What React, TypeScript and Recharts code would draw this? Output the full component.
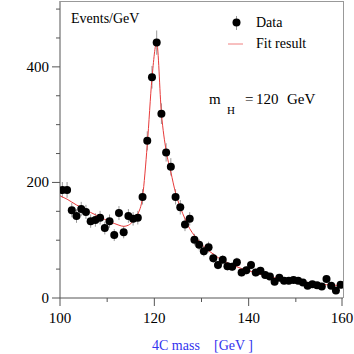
import React from "react";
import { ComposedChart, ErrorBar, Line, Scatter, XAxis, YAxis } from "recharts";

// 1 GeV bins, 100-160
const massBins = [
  100.5, 101.5, 102.5, 103.5, 104.5, 105.5, 106.5, 107.5, 108.5, 109.5,
  110.5, 111.5, 112.5, 113.5, 114.5, 115.5, 116.5, 117.5, 118.5, 119.5,
  120.5, 121.5, 122.5, 123.5, 124.5, 125.5, 126.5, 127.5, 128.5, 129.5,
  130.5, 131.5, 132.5, 133.5, 134.5, 135.5, 136.5, 137.5, 138.5, 139.5,
  140.5, 141.5, 142.5, 143.5, 144.5, 145.5, 146.5, 147.5, 148.5, 149.5,
  150.5, 151.5, 152.5, 153.5, 154.5, 155.5, 156.5, 157.5, 158.5, 159.5,
];

const events = [
  187, 187, 152, 142, 154, 149, 133, 135, 139, 121,
  133, 109, 147, 114, 142, 137, 139, 175, 272, 382,
  442, 319, 252, 227, 175, 157, 127, 137, 101, 92,
  81, 88, 69, 57, 66, 55, 54, 62, 44, 48,
  57, 44, 47, 40, 37, 28, 35, 30, 30, 31,
  30, 27, 21, 24, 22, 20, 33, 21, 13, 23,
];

const fitMass = [
  100, 100.5, 101.5, 102.5, 103.5, 104.5, 105.5, 106.5, 107.5, 108.5, 109.5,
  110.5, 111.5, 112.5, 113.5, 114.5, 115.5, 116.5, 117.5, 118.5, 119.5,
  120.5, 121.5, 122.5, 123.5, 124.5, 125.5, 126.5, 127.5, 128.5, 129.5,
  130.5, 131.5, 132.5, 133.5, 134.5, 135.5, 136.5, 137.5, 138.5, 139.5,
  140.5, 141.5, 142.5, 143.5, 144.5, 145.5, 146.5, 147.5, 148.5, 149.5,
  150.5, 151.5, 152.5, 153.5, 154.5, 155.5, 156.5, 157.5, 158.5, 159.5, 160,
];

const fitValues = [
  177, 175, 171, 166, 161, 157, 152, 148, 144, 140, 136,
  132, 129, 126, 124, 126, 133, 145, 175, 265, 380,
  442, 320, 255, 218, 182, 157, 137, 120, 108, 98,
  89, 82, 76, 70, 65, 61, 57, 54, 51, 48,
  46, 43, 41, 39, 37, 35, 34, 32, 31, 30,
  29, 28, 27, 26, 25, 24, 23, 23, 22, 21, 21,
];

const xTicks = [100, 105, 110, 115, 120, 125, 130, 135, 140, 145, 150, 155, 160];
const xLabels = [100, 120, 140, 160];
const yTicks = [0, 50, 100, 150, 200, 250, 300, 350, 400, 450, 500];
const yLabels = [0, 200, 400];

const serif = "'Liberation Serif', 'Times New Roman', serif";
const axisColor = "#555";

const dataRows = massBins.map((m, i) => ({ m, n: events[i], err: Math.sqrt(events[i]) }));
const fitRows = fitMass.map((m, i) => ({ m, fit: fitValues[i] }));

const XTick = (props: any) => {
  const { x, y, payload } = props;
  const major = xLabels.includes(payload.value);
  return (
    <g>
      <line x1={x} x2={x} y1={y} y2={y + (major ? 8 : 4)} stroke={axisColor} />
      {major && (
        <text x={x} y={y + 25} textAnchor="middle" fontSize={15} fontFamily={serif} fill="#000">
          {payload.value}
        </text>
      )}
    </g>
  );
};

const YTick = (props: any) => {
  const { x, y, payload } = props;
  const major = yLabels.includes(payload.value);
  return (
    <g>
      <line x1={x - (major ? 8 : 4)} x2={x} y1={y} y2={y} stroke={axisColor} />
      {major && (
        <text x={x - 11} y={y + 5} textAnchor="end" fontSize={15} fontFamily={serif} fill="#000">
          {payload.value}
        </text>
      )}
    </g>
  );
};

const Dot = (props: any) => <circle cx={props.cx} cy={props.cy} r={4} fill="#000" />;

export default function App() {
  return (
    <div style={{ position: "absolute", left: 0, top: 0, width: 354, height: 354 }}>
      <ComposedChart width={354} height={354} margin={{ top: 1, right: 11, bottom: 0, left: 10 }}>
        <XAxis
          type="number"
          dataKey="m"
          domain={[100, 160]}
          ticks={xTicks}
          tick={<XTick />}
          tickSize={0}
          tickMargin={0}
          tickLine={false}
          height={56}
          axisLine={{ stroke: axisColor }}
          allowDataOverflow
        />
        <YAxis
          type="number"
          domain={[0, 514]}
          ticks={yTicks}
          tick={<YTick />}
          tickSize={0}
          tickMargin={0}
          tickLine={false}
          width={50}
          axisLine={{ stroke: axisColor }}
          allowDataOverflow
        />
        <Scatter data={dataRows} dataKey="n" shape={<Dot />} isAnimationActive={false}>
          <ErrorBar dataKey="err" direction="y" width={0} stroke="#999" strokeWidth={1} isAnimationActive={false} />
        </Scatter>
        <Line
          data={fitRows}
          dataKey="fit"
          type="monotone"
          stroke="#e83a3a"
          strokeWidth={1}
          dot={false}
          activeDot={false}
          isAnimationActive={false}
        />
      </ComposedChart>
      <svg
        width={354}
        height={354}
        style={{ position: "absolute", left: 0, top: 0, pointerEvents: "none" }}
        fontFamily={serif}
      >
        <line x1={60} x2={343} y1={1.5} y2={1.5} stroke="#999" />
        <line x1={343.5} x2={343.5} y1={1} y2={298} stroke="#999" />
        <text x={71} y={23} fontSize={14}>Events/GeV</text>
        <line x1={236.5} x2={236.5} y1={16} y2={30} stroke="#999" />
        <circle cx={236.5} cy={22.5} r={4} fill="#000" />
        <text x={256} y={27} fontSize={14}>Data</text>
        <line x1={228} x2={243} y1={44} y2={44} stroke="#f08080" />
        <text x={256} y={48} fontSize={14}>Fit result</text>
        <text x={209} y={104} fontSize={15}>m</text>
        <text x={227} y={114} fontSize={11}>H</text>
        <text x={245} y={104} fontSize={15}>=</text>
        <text x={256} y={104} fontSize={15}>120</text>
        <text x={287} y={104} fontSize={15}>GeV</text>
        <text x={152} y={350} fontSize={14} fill="#3333ee">4C mass</text>
        <text x={214} y={350} fontSize={14} fill="#3333ee">[GeV ]</text>
      </svg>
    </div>
  );
}
